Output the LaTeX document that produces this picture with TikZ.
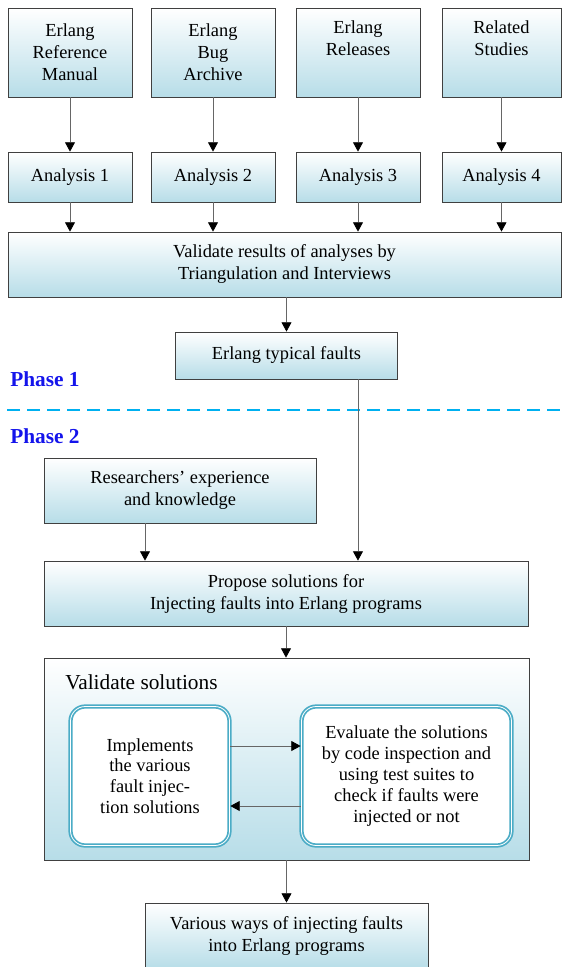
\documentclass[tikz,border=0pt]{standalone}
\usepackage{fontspec}
\setmainfont{Liberation Serif}
\usepackage{xcolor}
\usetikzlibrary{arrows.meta}
\definecolor{boxblue}{RGB}{183,221,232}
\definecolor{ringblue}{RGB}{75,172,198}
\definecolor{phaseblue}{RGB}{20,20,235}
\definecolor{dashblue}{RGB}{0,176,240}
\tikzset{
  box/.style={draw=black!75, line width=0.6pt, top color=white, bottom color=boxblue,
    align=center, inner sep=0pt, font=\fontsize{13.8}{16.5}\selectfont},
  ring/.style={draw=ringblue, line width=1.3pt, double=white, double distance=0.6pt,
    rounded corners=11pt, fill=white, align=center, inner sep=0pt,
    font=\fontsize{13.8}{15.6}\selectfont},
  arr/.style={draw=black!60, line width=0.6pt, -{Triangle[length=7pt,width=7.5pt,color=black]}},
  phase/.style={anchor=west, inner sep=0pt, text=phaseblue, font=\fontsize{16}{19}\selectfont\bfseries},
}

\begin{document}
\begin{tikzpicture}[x=0.75pt,y=-0.75pt]
\useasboundingbox (0,0) rectangle (562,967);
\clip (0,0) rectangle (562,967);
\foreach \i/\x/\w/\t in {1/70/93pt/{Erlang\\Reference\\Manual},2/213/93pt/{Erlang\\Bug\\Archive},
    3/358/93pt/{Erlang\\Releases\\\strut},4/501.5/89.25pt/{Related\\Studies\\\strut}}
  \node[box, minimum width=\w, minimum height=66.75pt] (src\i) at (\x,52.5) {\t};
\foreach \i/\x/\w in {1/70/93pt,2/213/93pt,3/358/93pt,4/501.5/89.25pt} {
  \node[box, minimum width=\w, minimum height=37.5pt] (ana\i) at (\x,177) {Analysis \i};
  \draw[arr] (src\i) -- (ana\i);
}
\node[box, minimum width=414.75pt, minimum height=48.75pt] (valid) at (284.5,264.5)
  {Validate results of analyses by\\Triangulation and Interviews};
\foreach \i in {1,...,4}
  \draw[arr] (ana\i) -- (ana\i |- valid.north);
\node[box, minimum width=166.5pt, minimum height=35.25pt] (faults) at (286.5,355.5) {Erlang typical faults};
\draw[arr] (faults |- valid.south) -- (faults);

% phases
\node[phase] (ph1) at (10,379) {Phase 1};
\draw[dashblue, line width=1.8pt, dash pattern=on 10pt off 5pt] (7,410) -- (562,410);
\node[phase] (ph2) at (10,436) {Phase 2};

\node[box, minimum width=204pt, minimum height=48.75pt] (res) at (180,490.5)
  {Researchers' experience\\and knowledge};
\node[box, minimum width=363pt, minimum height=48.75pt] (propose) at (286,593.5)
  {Propose solutions for\\Injecting faults into Erlang programs};
\draw[arr] ([xshift=-26.25pt]res.south) -- ([xshift=-26.25pt]res.south |- propose.north);
\draw[arr] ([xshift=53.6pt]faults.south) -- ([xshift=53.6pt]faults.south |- propose.north);

\node[box, minimum width=363.75pt, minimum height=151.5pt] (outer) at (286.5,759) {};
\node[anchor=west, inner sep=0pt, font=\fontsize{16}{19}\selectfont] (vsol) at (65,682) {Validate solutions};
\draw[arr] (propose.south) -- (propose.south |- outer.north);
\node[ring, minimum width=119.25pt, minimum height=104.25pt] (impl) at (150,776)
  {Implements\\the various\\fault injec-\\tion solutions};
\node[ring, minimum width=157.5pt, minimum height=104.25pt] (eval) at (406.5,776)
  {Evaluate the solutions\\by code inspection and\\using test suites to\\check if faults were\\injected or not};
\draw[arr] ([yshift=22.5pt]impl.east) -- ([yshift=22.5pt]impl.east -| eval.west);
\draw[arr] ([yshift=-22.5pt]eval.west) -- ([yshift=-22.5pt]eval.west -| impl.east);

\node[box, minimum width=212.25pt, minimum height=49.5pt] (final) at (286.5,936)
  {Various ways of injecting faults\\into Erlang programs};
\draw[arr] (outer.south) -- (outer.south |- final.north);
\end{tikzpicture}
\end{document}
